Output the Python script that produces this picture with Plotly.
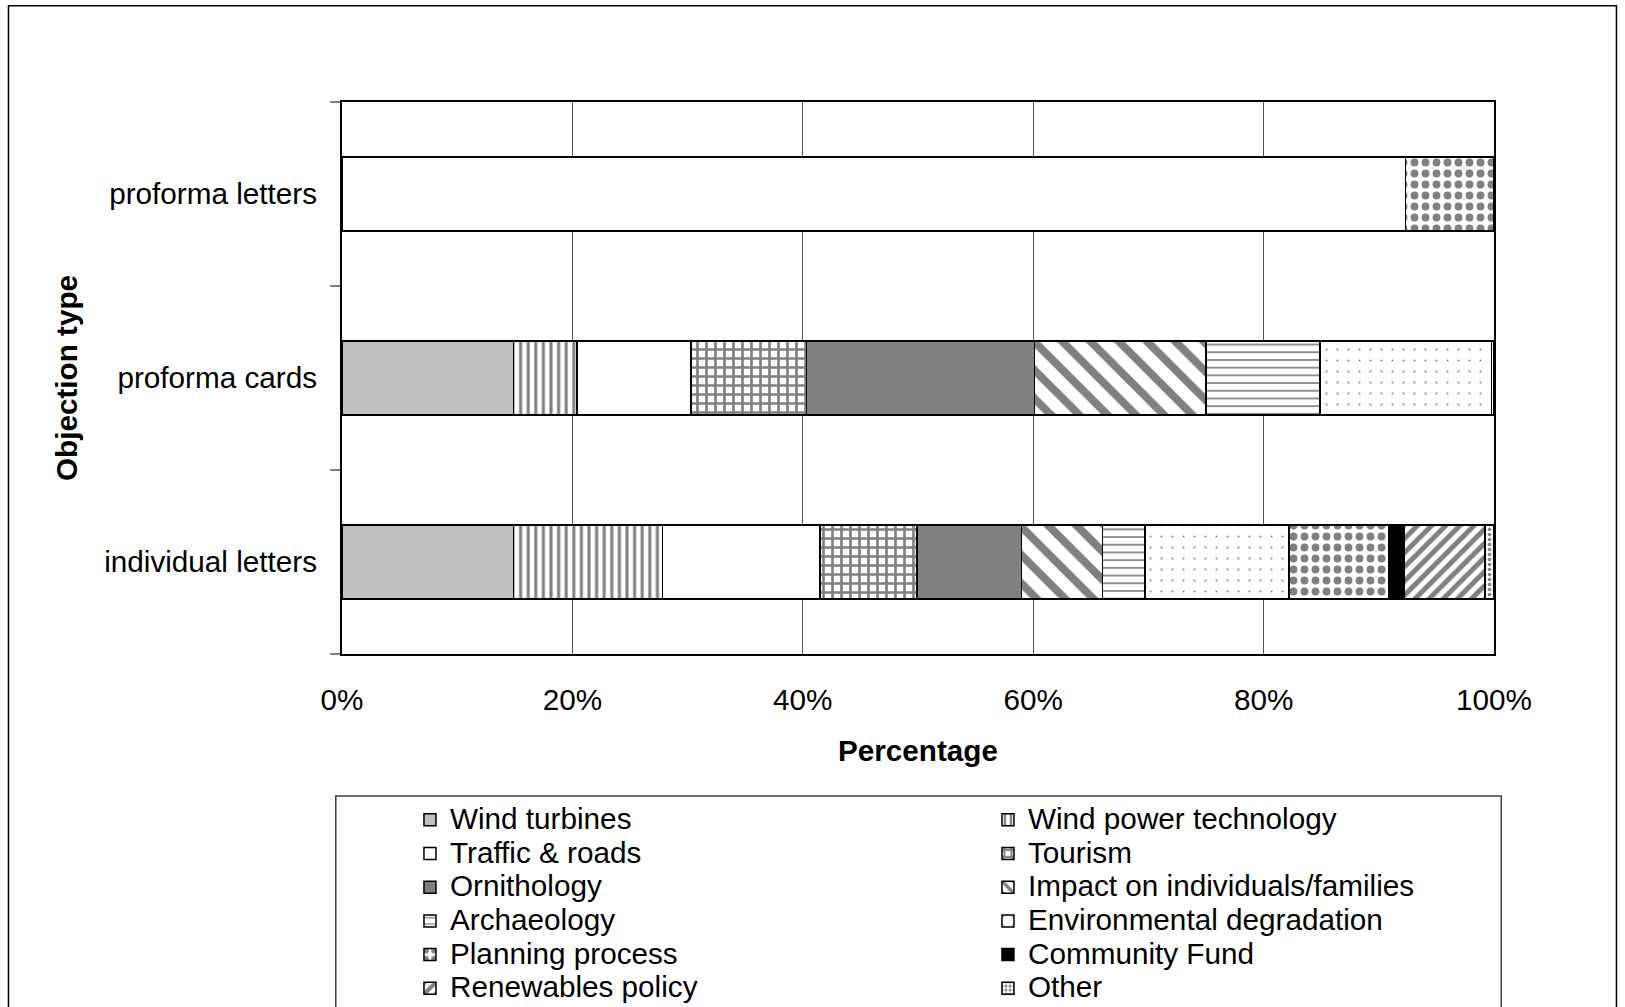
import plotly.graph_objects as go

# Objection types (bottom to top on the category axis)
categories = ["individual letters", "proforma cards", "proforma letters"]

# Share of objections per topic, in percent, for each objection type
wind_turbines = [14.9, 14.9, None]
wind_power_technology = [12.9, 5.5, None]
traffic_roads = [13.7, 9.9, 92.3]
tourism = [8.4, 10.0, None]
ornithology = [9.1, 19.8, None]
impact_individuals = [7.0, 14.9, None]
archaeology = [3.7, 9.9, None]
environmental_degradation = [12.5, 14.9, None]
planning_process = [8.7, None, 7.7]
community_fund = [1.3, None, None]
renewables_policy = [7.0, None, None]
other = [0.8, 0.2, None]

x_tick_values = [0, 20, 40, 60, 80, 100]
x_tick_labels = ["0%", "20%", "40%", "60%", "80%", "100%"]

FONT = "Liberation Sans, Arial, sans-serif"
GREY = "#808080"
LIGHT = "#C0C0C0"


def hatch(shape, size, solidity):
    return dict(shape=shape, fgcolor=GREY, bgcolor="white", fgopacity=1,
                size=size, solidity=solidity)


series = [
    ("Wind turbines", wind_turbines, dict(color=LIGHT)),
    ("Wind power technology", wind_power_technology, dict(color="white", pattern=hatch("|", 7.6, 0.4))),
    ("Traffic & roads", traffic_roads, dict(color="white")),
    ("Tourism", tourism, dict(color="white", pattern=hatch("+", 9, 0.5))),
    ("Ornithology", ornithology, dict(color=GREY)),
    ("Impact on individuals/families", impact_individuals, dict(color="white", pattern=hatch("\\", 20, 0.4))),
    ("Archaeology", archaeology, dict(color="white", pattern=hatch("-", 7.7, 0.22))),
    ("Environmental degradation", environmental_degradation, dict(color="white", pattern=hatch(".", 11, 0.025))),
    ("Planning process", planning_process, dict(color="white", pattern=hatch(".", 11, 0.4))),
    ("Community Fund", community_fund, dict(color="black")),
    ("Renewables policy", renewables_policy, dict(color="white", pattern=hatch("/", 10, 0.5))),
    ("Other", other, dict(color="white", pattern=hatch(".", 5, 0.4))),
]

fig = go.Figure()
for name, values, marker in series:
    marker = dict(marker, line=dict(color="black", width=1.5))
    fig.add_trace(go.Bar(
        y=categories,
        x=values,
        orientation="h",
        name=f'<span style="font-size:29.7px">{name}</span>',
        marker=marker,
    ))

fig.update_layout(
    width=1625,
    height=1007,
    margin=dict(l=342, r=131, t=102, b=353, autoexpand=False),
    paper_bgcolor="white",
    plot_bgcolor="white",
    barmode="stack",
    bargap=0.6,
    font=dict(family=FONT, size=29.7, color="black"),
    legend=dict(
        orientation="h",
        x=0.0590, xanchor="left",
        y=-0.2609, yanchor="top",
        entrywidth=533, entrywidthmode="pixels",
        traceorder="normal",
        font=dict(family=FONT, size=23.6, color="black"),
        bgcolor="rgba(0,0,0,0)",
        borderwidth=0,
    ),
    shapes=[
        # outer frame of the figure
        dict(type="rect", xref="paper", yref="paper",
             x0=-0.2895, x1=1.1063, y0=-0.7, y1=1.1745,
             line=dict(color="black", width=1.5), fillcolor="rgba(0,0,0,0)", layer="below"),
        # legend box
        dict(type="rect", xref="paper", yref="paper",
             x0=-0.0054, x1=1.0063, y0=-0.7, y1=-0.2571,
             line=dict(color="#404040", width=1.5), fillcolor="rgba(0,0,0,0)", layer="below"),
    ],
)

fig.update_xaxes(
    range=[0, 100],
    tickvals=x_tick_values,
    ticktext=x_tick_labels,
    ticks="",
    ticklabelstandoff=18,
    showgrid=True, gridcolor="#555555", gridwidth=1,
    showline=True, linecolor="black", linewidth=2, mirror=True,
    zeroline=False,
    title=dict(text="<b>Percentage</b>", font=dict(family=FONT, size=29.7), standoff=26),
    automargin=False,
)
fig.update_yaxes(
    categoryorder="array", categoryarray=categories,
    tickson="boundaries",
    ticks="outside", ticklen=10, tickcolor=GREY, tickwidth=1.5,
    ticklabelstandoff=17,
    showgrid=False,
    showline=True, linecolor="black", linewidth=2, mirror=True,
    title=dict(text="<b>Objection type</b>", font=dict(family=FONT, size=29.7), standoff=18),
    automargin=False,
)

fig.write_html("out.html")
